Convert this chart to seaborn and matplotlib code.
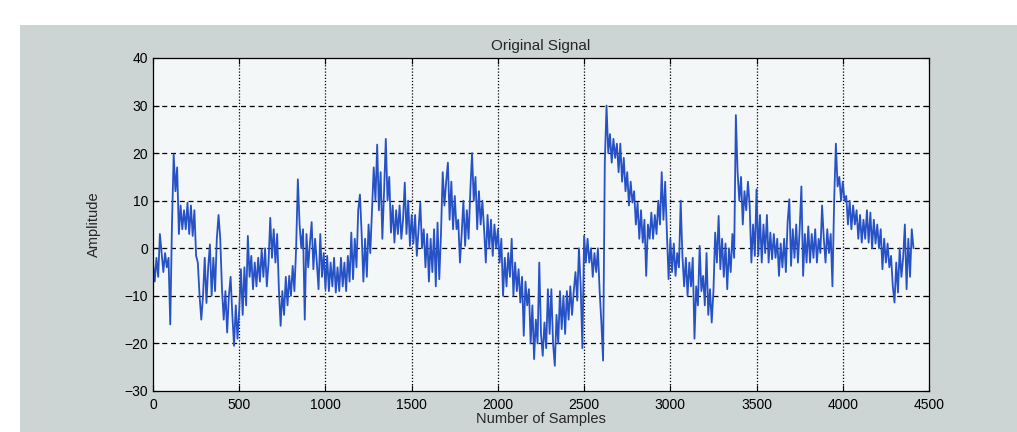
import numpy as np
import pandas as pd
import matplotlib
matplotlib.use("Agg")
import matplotlib.pyplot as plt
from matplotlib.patches import Rectangle
import seaborn as sns

# ---- data (one value every 10 samples) ----
sample_step = 10
amplitude = [
    -3, -7, -2, -6, 3, -1, -5, -1, -4, -2,                       # 0
    -16, 5, 19.7, 12, 17, 3, 9, 4, 8, 4,                         # 100
    9.6, 3, 9, 2.6, 8, -1.6, -3, -10, -15, -10,                  # 200
    -2, -11.5, -4, 0.8, -10, -2, -9, 2, 7, 2,                    # 300
    -8.6, -15, -9, -17.7, -10, -6, -14, -20.5, -12, -19,         # 400
    -13, -4.4, -14, -4, -12, 2.6, -6, -1.6, -8.6, -3,            # 500
    -8, -2, -7, -0.2, -6, 0, -8, -3, 6.4, -2,                    # 600
    4, -3, 3, -8.6, -16.3, -9, -14, -6, -12, -5.8,               # 700
    -10, -3.7, -9, 0, 14.5, 5, 0, 4, -15, 3,                     # 800
    -4, 1, 5.5, -4.4, 2, -3, -8.6, 3, -6, -1,                    # 900
    -8.6, -1.6, -9, -3, -8, -2, -9.3, -4, -9, -2,                # 1000
    -8, -3, -9, -1.6, -7, 3.3, -6.5, 2, -4, 8,                   # 1100
    11.3, 3, -7, 2, -6, 5, -1, 8, 17, 10,                        # 1200
    21.8, 8, 16, 2, 12, 23, 10, 15, 3.3, 9,                      # 1300
    1.2, 8, 3, 9, 2, 6, 13.8, 3, 10, 0.5,                        # 1400
    7, 1, 7, -1.6, 4, 9.6, 0, 4, -4, 3,                          # 1500
    -7, 2, -5, 4, -8, 5.4, -6.5, 3, 16, 9,                       # 1600
    14, 18, 6, 14, 4, 11, 4, 6, -3, 3,                           # 1700
    10, 0.5, 8, 2, 12, 20, 10, 15, 4, 12,                        # 1800
    5, 10, 4, -3, 7, 0, 6, -1.6, 5, 0,                           # 1900
    4, -3, 2, -10, -2, -8, -1, -6, 2, -10,                       # 2000
    -3, -9, -4.4, -11.4, -6, -18.4, -7, -12, -8.6, -20,          # 2100
    -12, -23.3, -15, -20, -3, -18, -22.6, -15.6, -21, -8.6,      # 2200
    -18, -8.6, -20, -24.7, -14, -20, -9, -17, -10, -18,          # 2300
    -9, -15, -8, -14, -9, -5, -11, 0, -8, -21,                   # 2400
    2.6, -3, 2, -3, 0, -6, -1, -5, 0, -9,                        # 2500
    -15.6, -23.6, 18, 30, 20, 24, 18, 23, 19, 22,                # 2600
    16, 22, 14, 19, 12, 16, 9, 14, 9.6, 12,                      # 2700
    5, 9.6, 2, 8, 1.2, 6, -5.8, 5, 2, 7.5,                       # 2800
    2, 7, 3, 10, 5, 16, 6, 14, 3.3, -6.5,                        # 2900
    2, -5, 1, -5.8, -1, -4, 10, -1.6, -8, -2,                    # 3000
    -10, -3, -8, -2, -19, -8, -12, 0.5, -9, -5.8,                # 3100
    -12, -1, -14, -8.6, -15.6, -9, 3.3, -3, 6.8, -4.4,           # 3200
    2, -6, 1, -8.6, 0, -5, 3, -2, 28, 16,                        # 3300
    10, 15, 5, 12, 8, 14, 9, -3, 5, -1.6,                        # 3400
    12.4, -1.6, 7, -3, 5, -1, 7, -3, 3.3, -2.3,                  # 3500
    3, -2, 2, -5.8, 1, -4, 2, -5, 5.4, 10.3,                     # 3600
    -3.7, 4, -2, 5, -3, 4, 13, -5.8, 3, -3,                      # 3700
    4.6, -3, 3, -2, 4, -3, 2, -1, 9, 2,                          # 3800
    -3, 4, -1, 3, -8, 10, 22, 13, 15, 10,                        # 3900
    14, 10, 11, 5, 10, 4, 9, 5, 8, 2,                            # 4000
    7, 1.2, 6, 2, 8, 1.2, 7.5, 0, 6, 1,                          # 4100
    5, 0, 4, -4.4, 2, -3, 1, -4, -1.6, -8,                       # 4200
    -11.4, -3, -9.3, 0, -6, -2, 5, -8.6, 2, -6,                  # 4300
    4, 0,                                                        # 4400
]
samples = np.arange(len(amplitude)) * sample_step

x_ticks = [0, 500, 1000, 1500, 2000, 2500, 3000, 3500, 4000, 4500]
y_ticks = [-30, -20, -10, 0, 10, 20, 30, 40]
title = "Original Signal"
x_label = "Number of Samples"
y_label = "Amplitude"

df = pd.DataFrame({"sample": samples, "amplitude": amplitude})

# ---- figure ----
sns.set_style("white")
plt.rcParams["font.family"] = ["Liberation Sans", "DejaVu Sans"]

fig = plt.figure(figsize=(10.17, 4.32), dpi=100)
fig.patch.set_facecolor("white")
bg = Rectangle((20 / 1017, 0), 1, (432 - 25) / 432,
               transform=fig.transFigure, facecolor="#cdd4d4",
               edgecolor="none", zorder=-10)
fig.add_artist(bg)

ax = fig.add_axes([153 / 1017, 1 - 391 / 432, (929 - 153) / 1017, (391 - 58) / 432])
ax.set_zorder(5)
ax.set_facecolor("#f4f7f7")

sns.lineplot(data=df, x="sample", y="amplitude", ax=ax, color="#2652c6",
             linewidth=1.3, estimator=None, sort=False)

ax.set_xlim(0, 4500)
ax.set_ylim(-30, 40)
ax.set_xticks(x_ticks)
ax.set_yticks(y_ticks)
ax.tick_params(direction="in", length=4, width=0.8, colors="black",
               labelsize=10, top=True, right=True, bottom=True, left=True)
ax.tick_params(axis="x", pad=5)

for v in x_ticks[1:-1]:
    ax.axvline(v, color="black", linestyle=(0, (1, 1.5)), linewidth=0.9, zorder=1)
for v in y_ticks[1:-1]:
    ax.axhline(v, color="black", linestyle=(0, (4, 3)), linewidth=0.9, zorder=1)

for s in ax.spines.values():
    s.set_color("black")
    s.set_linewidth(0.9)

ax.set_title(title, fontsize=11, pad=6)
ax.set_xlabel(x_label, fontsize=10.5, labelpad=0)
ax.set_ylabel(y_label, fontsize=10.5, labelpad=17)

fig.savefig("out.png", dpi=100, facecolor=fig.get_facecolor())
